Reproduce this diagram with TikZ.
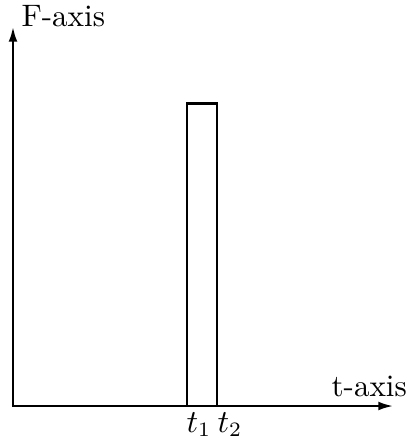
\documentclass[tikz,border=0pt]{standalone}
\usetikzlibrary{arrows.meta}
\begin{document}
\begin{tikzpicture}[x=0.012cm,y=-0.012cm,
  axis/.style={line width=0.7pt,-{Latex[length=5pt,width=3pt]}},
  pulse/.style={line width=0.45pt},
  pulsetop/.style={line width=1pt},
  lbl/.style={inner sep=0pt,anchor=base west,font=\fontsize{10.6}{12}\selectfont}]
\useasboundingbox (0,0) rectangle (409,442);
\coordinate (O) at (13,406);
\coordinate (Ytip) at (13,27);
\coordinate (Xtip) at (393,406);
\coordinate (A) at (187,406);
\coordinate (B) at (217,406);
\coordinate (Atop) at (187,103.5);
\coordinate (Btop) at (217,103.5);
\draw[pulse] (A) -- (Atop);
\draw[pulse] (B) -- (Btop);
\draw[pulsetop] ([xshift=-0.3pt]Atop) -- ([xshift=0.3pt]Btop);
\draw[axis] (O) -- (Ytip);
\draw[axis] ([xshift=-0.35pt]O) -- (Xtip);
\node[lbl] (F) at (21,27) {F-axis};
\node[lbl] (T) at (331,396) {t-axis};
\node[lbl] (t1) at (186,432) {$t_1$};
\node[lbl] (t2) at (217,432) {$t_2$};
\end{tikzpicture}
\end{document}
